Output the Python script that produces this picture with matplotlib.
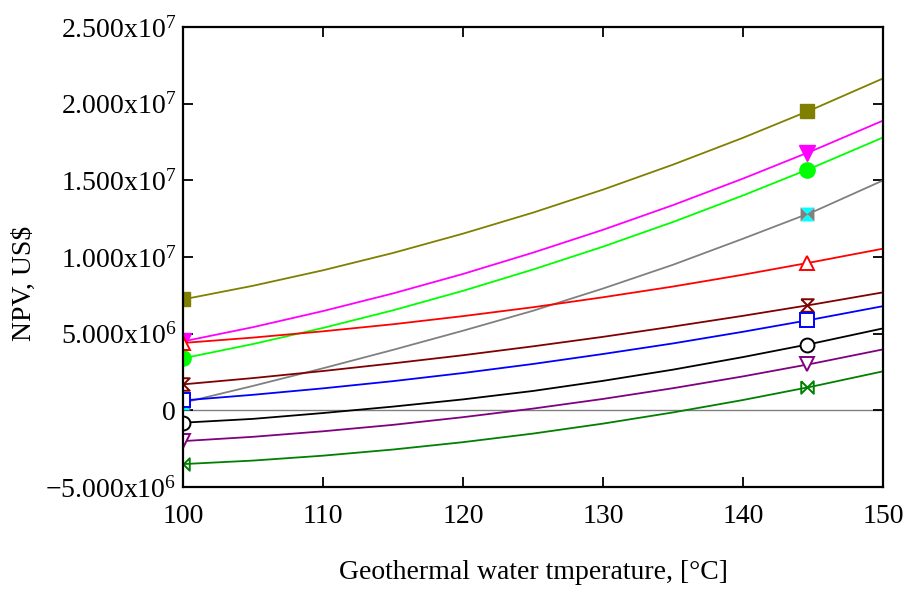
import matplotlib
matplotlib.use('Agg')
import matplotlib.pyplot as plt

# temperatures (deg C) at which NPV was read
temps = [100, 105, 110, 115, 120, 125, 130, 135, 140, 145, 150]

# NPV curves, in millions of US$
npv_olive = [7.24, 8.13, 9.14, 10.27, 11.53, 12.90, 14.40, 16.03, 17.78, 19.65, 21.65]
npv_magenta = [4.50, 5.43, 6.48, 7.63, 8.90, 10.29, 11.78, 13.39, 15.12, 16.95, 18.90]
npv_lime = [3.40, 4.33, 5.38, 6.53, 7.80, 9.19, 10.68, 12.29, 14.02, 15.85, 17.80]
npv_gray = [0.50, 1.60, 2.75, 3.95, 5.20, 6.50, 7.95, 9.50, 11.20, 12.95, 15.00]
npv_red = [4.40, 4.75, 5.16, 5.62, 6.15, 6.73, 7.38, 8.08, 8.85, 9.68, 10.55]
npv_darkred = [1.70, 2.11, 2.57, 3.07, 3.60, 4.18, 4.80, 5.47, 6.17, 6.91, 7.70]
npv_blue = [0.65, 1.02, 1.44, 1.91, 2.44, 3.03, 3.68, 4.37, 5.13, 5.94, 6.80]
npv_black = [-0.80, -0.55, -0.17, 0.25, 0.72, 1.27, 1.93, 2.66, 3.48, 4.37, 5.35]
npv_purple = [-2.00, -1.72, -1.36, -0.94, -0.44, 0.12, 0.75, 1.45, 2.22, 3.06, 3.98]
npv_green = [-3.50, -3.27, -2.95, -2.55, -2.07, -1.51, -0.86, -0.13, 0.68, 1.57, 2.55]

# marker positions: start of range and one point near the end
marker_temps = [100, 144.6]
mk_olive = [7.24, 19.5]
mk_magenta = [4.50, 16.8]
mk_lime = [3.40, 15.7]
mk_gray = [0.50, 12.8]
mk_red = [4.40, 9.6]
mk_darkred = [1.70, 6.85]
mk_blue = [0.65, 5.87]
mk_black = [-0.80, 4.3]
mk_purple = [-2.00, 3.0]
mk_green = [-3.50, 1.5]

ytick_vals = [-5, 0, 5, 10, 15, 20, 25]
ytick_labels = ['\u2212' + r'5.000x10$^{6}$', '0', r'5.000x10$^{6}$', r'1.000x10$^{7}$',
                r'1.500x10$^{7}$', r'2.000x10$^{7}$', r'2.500x10$^{7}$']
xtick_vals = [100, 110, 120, 130, 140, 150]

# two-triangle markers (apexes meeting in the middle)
hourglass = [(-1, 1), (1, 1), (-1, -1), (1, -1), (-1, 1)]
bowtie = [(-1, 1), (1, -1), (1, 1), (-1, -1), (-1, 1)]


def main():
    plt.rcParams['font.family'] = 'Liberation Serif'
    plt.rcParams['mathtext.fontset'] = 'custom'
    plt.rcParams['mathtext.rm'] = 'Liberation Serif'
    plt.rcParams['mathtext.it'] = 'Liberation Serif'
    plt.rcParams['mathtext.default'] = 'rm'

    fig = plt.figure(figsize=(9.06, 5.89), dpi=100, facecolor='w')
    ax = fig.add_axes([0.202, 0.173, 0.7726, 0.781])

    ax.axhline(0, color='#808080', linewidth=1.0, zorder=1)

    lw = 1.3
    ms = 10
    ax.plot(temps, npv_olive, color='#808000', linewidth=lw)
    ax.plot(marker_temps, mk_olive, 's', color='#808000', markersize=ms)

    ax.plot(temps, npv_magenta, color='#ff00ff', linewidth=lw)
    ax.plot(marker_temps, mk_magenta, 'v', color='#ff00ff', markersize=ms + 1)

    ax.plot(temps, npv_lime, color='#00ff00', linewidth=lw)
    ax.plot(marker_temps, mk_lime, 'o', color='#00ff00', markersize=ms + 1)

    ax.plot(temps, npv_gray, color='#808080', linewidth=lw)
    ax.plot(marker_temps, mk_gray, marker=hourglass, linestyle='none', color='#00ffff',
            markersize=ms, markeredgewidth=0)
    ax.plot(marker_temps, mk_gray, marker=bowtie, linestyle='none', color='#808080',
            markersize=ms, markeredgewidth=0)

    ax.plot(temps, npv_red, color='#ff0000', linewidth=lw)
    ax.plot(marker_temps, mk_red, '^', color='#ff0000', markersize=ms,
            markerfacecolor='white', markeredgewidth=1.4)

    ax.plot(temps, npv_darkred, color='#800000', linewidth=lw)
    ax.plot(marker_temps, mk_darkred, marker=hourglass, linestyle='none', color='#800000',
            markersize=ms - 1, markerfacecolor='none', markeredgewidth=1.4)

    ax.plot(temps, npv_blue, color='#0000ff', linewidth=lw)
    ax.plot(marker_temps, mk_blue, 's', color='#0000ff', markersize=ms,
            markerfacecolor='white', markeredgewidth=1.4)

    ax.plot(temps, npv_black, color='black', linewidth=lw)
    ax.plot(marker_temps, mk_black, 'o', color='black', markersize=ms,
            markerfacecolor='white', markeredgewidth=1.4)

    ax.plot(temps, npv_purple, color='#800080', linewidth=lw)
    ax.plot(marker_temps, mk_purple, 'v', color='#800080', markersize=ms,
            markerfacecolor='white', markeredgewidth=1.4)

    ax.plot(temps, npv_green, color='#008000', linewidth=lw)
    ax.plot(marker_temps, mk_green, marker=bowtie, linestyle='none', color='#008000',
            markersize=ms - 1, markerfacecolor='none', markeredgewidth=1.4)

    ax.set_xlim(100, 150)
    ax.set_ylim(-5, 25)
    ax.set_xticks(xtick_vals)
    ax.set_yticks(ytick_vals)
    ax.set_yticklabels(ytick_labels)
    ax.tick_params(direction='in', length=7, width=1.3, top=True, right=True,
                   labelsize=20)
    ax.tick_params(axis='x', pad=12)
    ax.tick_params(axis='y', pad=5)
    for side in ax.spines.values():
        side.set_linewidth(1.6)

    ax.set_xlabel('Geothermal water tmperature, [°C]', fontsize=20)
    ax.set_ylabel('NPV, US$', fontsize=20)
    ax.xaxis.set_label_coords(0.5, -0.185)
    ax.yaxis.set_label_coords(-0.226, 0.443)
    ax.xaxis.label.set_va('center')
    ax.yaxis.label.set_va('center')

    plt.savefig('out.png', dpi=100)


if __name__ == '__main__':
    main()
